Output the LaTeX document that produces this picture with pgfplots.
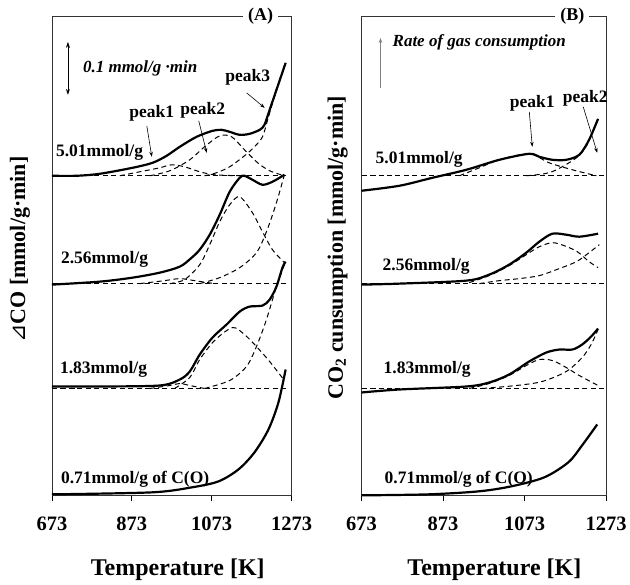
\documentclass[border=0pt]{standalone}
\usepackage{fontspec}
\setmainfont{Liberation Serif}
\newfontfamily\dejavu{DejaVu Sans}
\usepackage{pgfplots}
\pgfplotsset{compat=1.18}
\usetikzlibrary{arrows.meta}
\pgfplotsset{
  panel/.style={scale only axis, height=480pt, xmin=673, xmax=1273, ymin=0, ymax=480,
    xtick={673,873,1073,1273}, xticklabels={673,873,1073,1273}, ytick=\empty,
    tick align=outside, major tick length=6pt, xtick pos=lower,
    axis line style={line width=0.7pt, black!80}, tick style={line width=0.7pt, black},
    xticklabel style={font=\fontsize{20.5}{24}\selectfont\bfseries, yshift=-12pt},
    clip=false},
  sol/.style={black, line width=2.2pt, smooth, no marks},
  das/.style={black, line width=1.0pt, dash pattern=on 5pt off 3.5pt, smooth, no marks},
}
\begin{document}
\begin{tikzpicture}
\path (0pt,0pt) rectangle (630pt,-585pt);
% ---------------- Panel A ----------------
\begin{axis}[panel, at={(52pt,-16pt)}, anchor=north west, width=240pt]
% 5.01
\addplot[das] coordinates {(673,320) (1268,320)};
\addplot[das] coordinates {(843,320) (893,324) (943,328) (973,331) (1005,329) (1043,324) (1080,321) (1143,320)};
\addplot[das] coordinates {(918,320) (968,325) (1018,336) (1055,349) (1093,360) (1123,359) (1155,346) (1188,333) (1218,325) (1255,320)};
\addplot[das] coordinates {(1055,320) (1085,323) (1118,329) (1155,340) (1180,349) (1200,359) (1213,376) (1230,399) (1258,433)};
\addplot[sol] coordinates {(673,320) (735,320) (793,322) (875,328) (925,333) (960,340) (993,349) (1035,359) (1075,365) (1098,366) (1118,364) (1143,361) (1168,362) (1193,366) (1205,371) (1218,386) (1235,406) (1258,433)};
% 2.56
\addplot[das] coordinates {(673,212) (1268,212)};
\addplot[das] coordinates {(893,212) (955,215) (993,217) (1030,215) (1080,212)};
\addplot[das] coordinates {(968,212) (1005,216) (1043,231) (1068,251) (1093,274) (1118,291) (1143,299) (1175,283) (1200,264) (1225,246) (1255,233)};
\addplot[das] coordinates {(1043,212) (1093,218) (1143,228) (1185,243) (1210,264) (1235,293) (1255,321)};
\addplot[sol] coordinates {(673,211) (793,214) (875,218) (943,223) (993,229) (1020,237) (1043,246) (1068,261) (1093,281) (1118,304) (1143,318) (1155,320) (1175,316) (1200,311) (1225,314) (1255,321)};
% 1.83
\addplot[das] coordinates {(673,107) (1268,107)};
\addplot[das] coordinates {(918,107) (968,110) (993,112) (1018,110) (1055,107)};
\addplot[das] coordinates {(980,107) (1018,118) (1043,136) (1080,155) (1125,168) (1155,161) (1185,149) (1218,134) (1255,115)};
\addplot[das] coordinates {(1055,107) (1118,115) (1160,129) (1185,149) (1210,176) (1235,209) (1258,234)};
\addplot[sol] coordinates {(673,109) (793,109) (943,110) (993,116) (1018,124) (1043,141) (1075,158) (1110,171) (1143,184) (1168,189) (1200,190) (1218,196) (1235,209) (1250,228) (1258,234)};
% 0.71
\addplot[sol] coordinates {(673,1) (923,3) (1023,8) (1090,14) (1140,26) (1180,43) (1215,66) (1240,93) (1258,126)};
\end{axis}
% ---------------- Panel B ----------------
\begin{axis}[panel, at={(362pt,-16pt)}, anchor=north west, width=245pt]
% 5.01
\addplot[das] coordinates {(673,320) (1268,320)};
\addplot[das] coordinates {(913,320) (962,328) (1011,336) (1084,342) (1133,333) (1190,326) (1249,320)};
\addplot[das] coordinates {(1077,320) (1121,322) (1151,326) (1200,338) (1226,351) (1253,377)};
\addplot[sol] coordinates {(673,305) (766,310) (847,318) (930,326) (1011,336) (1084,342) (1109,339) (1141,336) (1175,336) (1207,341) (1231,356) (1253,377)};
% 2.56
\addplot[das] coordinates {(673,212) (1268,212)};
\addplot[das] coordinates {(937,213) (986,220) (1035,230) (1077,241) (1109,249) (1141,253) (1170,250) (1202,244) (1231,234) (1253,228)};
\addplot[das] coordinates {(962,212) (1011,215) (1060,217) (1109,220) (1151,226) (1200,234) (1231,243) (1256,251)};
\addplot[sol] coordinates {(673,211) (766,212) (930,215) (986,221) (1035,231) (1077,243) (1109,254) (1141,262) (1175,261) (1207,259) (1253,262)};
% 1.83
\addplot[das] coordinates {(673,107) (1268,107)};
\addplot[das] coordinates {(937,107) (986,112) (1035,120) (1077,130) (1109,136) (1141,135) (1175,128) (1207,120) (1253,110)};
\addplot[das] coordinates {(969,107) (1053,110) (1116,114) (1175,124) (1214,138) (1236,151) (1253,166)};
\addplot[sol] coordinates {(673,103) (766,106) (930,109) (986,113) (1035,121) (1084,134) (1126,143) (1158,146) (1190,146) (1214,151) (1236,159) (1253,167)};
% 0.71
\addplot[sol] coordinates {(673,0) (837,1) (960,4) (1040,9) (1121,18) (1180,33) (1212,49) (1251,71)};
\end{axis}
% ---------------- Annotations ----------------
\tikzset{lab/.style={font=\fontsize{17.5}{21}\selectfont\bfseries, inner sep=1pt}}
% Panel A
\node[fill=white, font=\fontsize{18}{20}\selectfont\bfseries, inner xsep=5pt, inner ysep=1pt] at (261pt,-16pt) {(A)};
\draw[line width=0.8pt, {Stealth[length=6pt,width=4pt]}-{Stealth[length=6pt,width=4pt]}] (68pt,-42pt) -- (68pt,-95pt);
\node[anchor=west, font=\fontsize{17}{20}\selectfont\bfseries\itshape, inner sep=0pt] at (83pt,-69pt) {0.1 mmol/g ·min};
\node[lab] at (152pt,-113pt) {peak1};
\node[lab] at (203pt,-110pt) {peak2};
\node[lab] at (248pt,-77pt) {peak3};
\draw[line width=0.6pt, -{Stealth[length=5pt,width=3.5pt]}] (147pt,-126pt) -- (152pt,-157pt);
\draw[line width=0.6pt, -{Stealth[length=5pt,width=3.5pt]}] (199pt,-121pt) -- (207pt,-153pt);
\draw[line width=0.6pt, -{Stealth[length=5pt,width=3.5pt]}] (247pt,-93pt) -- (265pt,-108pt);
\node[lab, anchor=west] at (55pt,-153pt) {5.01mmol/g};
\node[lab, anchor=west] at (60pt,-260pt) {2.56mmol/g};
\node[lab, anchor=west] at (59pt,-370pt) {1.83mmol/g};
\node[lab, anchor=west] at (60pt,-480pt) {0.71mmol/g of C(O)};
\node[rotate=90, font=\fontsize{22}{24}\selectfont\bfseries] at (20pt,-250pt) {{\dejavu\mdseries ⊿}CO [mmol/g·min]};
\node[font=\fontsize{24}{28}\selectfont\bfseries] at (178pt,-570pt) {Temperature [K]};
% Panel B
\node[fill=white, font=\fontsize{18}{20}\selectfont\bfseries, inner xsep=5pt, inner ysep=1pt] at (573pt,-16pt) {(B)};
\draw[line width=0.6pt, gray, -{Stealth[length=5pt,width=3.5pt]}] (381pt,-88pt) -- (381pt,-38pt);
\node[anchor=west, font=\fontsize{17}{20}\selectfont\bfseries\itshape, inner sep=0pt] at (393pt,-42pt) {Rate of gas consumption};
\node[lab] at (533pt,-103pt) {peak1};
\node[lab] at (586pt,-98pt) {peak2};
\draw[line width=0.6pt, -{Stealth[length=5pt,width=3.5pt]}] (530pt,-112pt) -- (533pt,-147pt);
\draw[line width=0.6pt, -{Stealth[length=5pt,width=3.5pt]}] (584pt,-107pt) -- (598pt,-153pt);
\node[lab, anchor=west] at (375pt,-160pt) {5.01mmol/g};
\node[lab, anchor=west] at (382pt,-267pt) {2.56mmol/g};
\node[lab, anchor=west] at (383pt,-370pt) {1.83mmol/g};
\node[lab, anchor=west] at (384pt,-480pt) {0.71mmol/g of C(O)};
\node[rotate=90, font=\fontsize{22}{24}\selectfont\bfseries] at (338pt,-248pt) {CO\textsubscript{2} cunsumption [mmol/g·min]};
\node[font=\fontsize{24}{28}\selectfont\bfseries] at (495pt,-570pt) {Temperature [K]};
\end{tikzpicture}
\end{document}
